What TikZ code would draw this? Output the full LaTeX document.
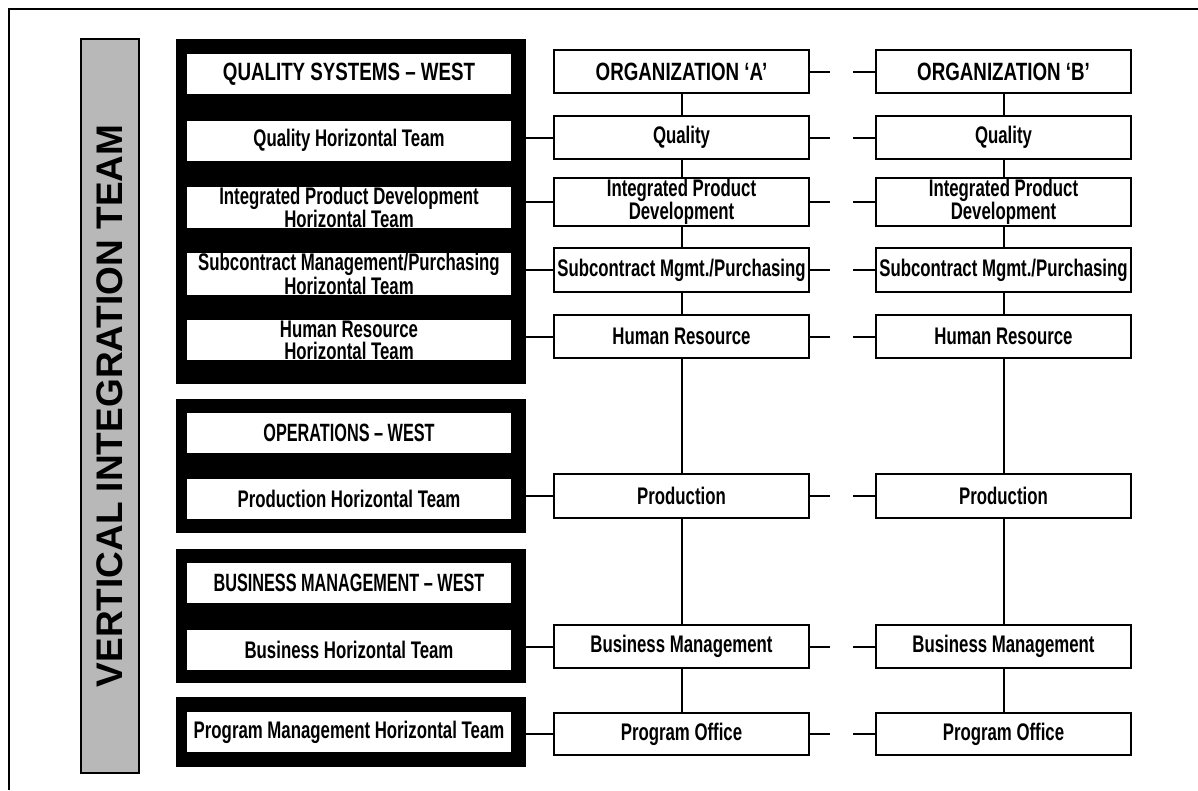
\documentclass[tikz,border=0pt]{standalone}
\usepackage{fontspec}
\setmainfont{Liberation Sans}
\newfontfamily\condfont[FakeStretch=0.70]{Liberation Sans Bold}
\newfontfamily\condcaps[FakeStretch=0.75]{Liberation Sans Bold}
\newfontfamily\condcapsn[FakeStretch=0.65]{Liberation Sans Bold}
\usetikzlibrary{calc}

\tikzset{
  blackbox/.style={fill=black, draw=none, inner sep=0pt, minimum width=350pt},
  teambox/.style={fill=white, draw=none, inner sep=0pt, minimum width=324pt,
    minimum height=40pt, align=center,
    font=\condfont\fontsize{24}{22}\selectfont},
  headbox/.style={teambox, font=\condcaps\fontsize{25}{22}\selectfont},
  headboxn/.style={teambox, font=\condcapsn\fontsize{25}{22}\selectfont},
  orgbox/.style={draw=black, line width=2.4pt, fill=white, inner sep=0pt,
    minimum width=255pt, minimum height=43pt, align=center,
    font=\condfont\fontsize{24}{22}\selectfont},
  orghead/.style={orgbox, font=\condcaps\fontsize{25}{22}\selectfont},
  link/.style={line width=2pt},
  gaplink/.style={link, dash pattern=on 20pt off 23pt on 30pt off 1pt},
  vitbar/.style={draw=black, line width=2pt, fill=black!28, inner sep=0pt,
    minimum width=734pt, minimum height=58pt, rotate=90,
    font=\bfseries\fontsize{37}{37}\selectfont},
}

\begin{document}
\begin{tikzpicture}[x=1pt,y=-1pt]
\useasboundingbox (0,0) rectangle (1198,790);
\fill[white] (0,0) rectangle (1198,790);

% outer frame (partly visible)
\draw[line width=2pt] (1198,9) -- (9,9) -- (9,790);

% vertical integration bar
\node[vitbar] (vit) at (110,406) {VERTICAL INTEGRATION TEAM};

% black group boxes
\node[blackbox, minimum height=345pt] (bb1) at (351,211.5) {};
\node[blackbox, minimum height=134pt] (bb2) at (351,466) {};
\node[blackbox, minimum height=134pt] (bb3) at (351,616) {};
\node[blackbox, minimum height=70pt]  (bb4) at (351,732) {};

% inner team boxes
\node[headbox] (h1) at (349,74)    {QUALITY SYSTEMS – WEST};
\node[teambox] (t1) at (349,140.5) {Quality Horizontal Team};
\node[teambox] (t2) at (349,207.5) {Integrated Product Development\\Horizontal Team};
\node[teambox] (t3) at (349,274)   {Subcontract Management/Purchasing\\Horizontal Team};
\node[teambox] (t4) at (349,340)   {Human Resource\\Horizontal Team};
\node[headboxn] (h2) at (349,433)  {OPERATIONS – WEST};
\node[teambox] (t5) at (349,499)   {Production Horizontal Team};
\node[headboxn] (h3) at (349,583)  {BUSINESS MANAGEMENT – WEST};
\node[teambox] (t6) at (349,649.5) {Business Horizontal Team};
\node[teambox] (t7) at (349,732)   {Program Management Horizontal Team};

% organization A column
\node[orghead] (oa)  at (681.5,71.5) {ORGANIZATION ‘A’};
\node[orgbox]  (qa)  at (681.5,137.5) {Quality};
\node[orgbox, minimum height=48pt] (ia) at (681.5,202) {Integrated Product\\Development};
\node[orgbox, minimum height=44pt] (sa) at (681.5,270) {Subcontract Mgmt./Purchasing};
\node[orgbox]  (ha)  at (681.5,336.5) {Human Resource};
\node[orgbox, minimum height=44pt] (pa) at (681.5,496) {Production};
\node[orgbox]  (ba)  at (681.5,646.5) {Business Management};
\node[orgbox, minimum height=42pt] (poa) at (681.5,734) {Program Office};

% organization B column
\node[orghead] (ob)  at (1003.5,71.5) {ORGANIZATION ‘B’};
\node[orgbox]  (qb)  at (1003.5,137.5) {Quality};
\node[orgbox, minimum height=48pt] (ib) at (1003.5,202) {Integrated Product\\Development};
\node[orgbox, minimum height=44pt] (sb) at (1003.5,270) {Subcontract Mgmt./Purchasing};
\node[orgbox]  (hb)  at (1003.5,336.5) {Human Resource};
\node[orgbox, minimum height=44pt] (pb) at (1003.5,496) {Production};
\node[orgbox]  (bb)  at (1003.5,646.5) {Business Management};
\node[orgbox, minimum height=42pt] (pob) at (1003.5,734) {Program Office};

% vertical links in columns
\foreach \u/\v in {oa/qa, qa/ia, ia/sa, sa/ha, ha/pa, pa/ba, ba/poa,
                   ob/qb, qb/ib, ib/sb, sb/hb, hb/pb, pb/bb, bb/pob}
  \draw[link] (\u.south) -- (\v.north);

% links A -- B (broken)
\foreach \u/\v in {oa/ob, qa/qb, ia/ib, sa/sb, ha/hb, pa/pb, ba/bb, poa/pob}
  \draw[gaplink] (\u.east) -- (\v.west);

% links from team groups to column A
\draw[link] (qa.west) -- (qa.west -| bb1.east);
\draw[link] (ia.west) -- (ia.west -| bb1.east);
\draw[link] (sa.west) -- (sa.west -| bb1.east);
\draw[link] (ha.west) -- (ha.west -| bb1.east);
\draw[link] (pa.west) -- (pa.west -| bb2.east);
\draw[link] (ba.west) -- (ba.west -| bb3.east);
\draw[link] (poa.west) -- (poa.west -| bb4.east);
\end{tikzpicture}
\end{document}
